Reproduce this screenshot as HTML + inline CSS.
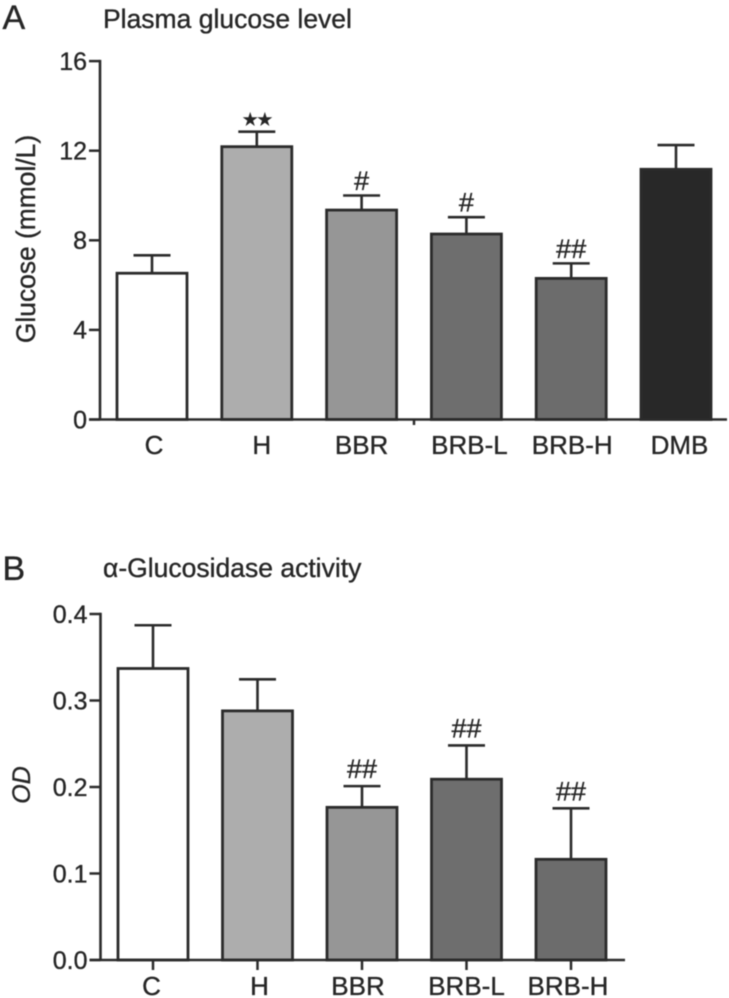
<!DOCTYPE html>
<html lang="en">
<head>
<meta charset="utf-8">
<title>Plasma glucose level and α-Glucosidase activity</title>
<style>
html,body{margin:0;padding:0;background:#fff;width:729px;height:998px;overflow:hidden}
svg{display:block;filter:blur(0.55px)}
text{font-family:"Liberation Sans",Arial,sans-serif;fill:#262626;stroke:#262626;stroke-width:0.35px}
</style>
</head>
<body>
<svg id="figure" xmlns="http://www.w3.org/2000/svg" width="729" height="998" viewBox="0 0 729 998">
  <rect x="0" y="0" width="729" height="998" fill="#fff"/>
  <text x="2.5" y="29" font-size="34">A</text>
  <text x="103" y="28" font-size="26.5">Plasma glucose level</text>
  <text transform="translate(35,239) rotate(-90)" text-anchor="middle" font-size="26.4">Glucose (mmol/L)</text>
  <g id="panelA"></g>
  <line x1="414" y1="419" x2="414" y2="425" stroke="#2b2b2b" stroke-width="2.5"/>
  <text x="2.5" y="580" font-size="34">B</text>
  <text x="103" y="577" font-size="26.5">α-Glucosidase activity</text>
  <text transform="translate(30,785) rotate(-90)" text-anchor="middle" font-size="25" font-style="italic">OD</text>
  <g id="panelB"></g>
</svg>
<script>
var categoriesA = ['C', 'H', 'BBR', 'BRB-L', 'BRB-H', 'DMB'];
var meansA = [6.53, 12.18, 9.35, 8.28, 6.3, 11.17];
var errorsA = [0.8, 0.67, 0.65, 0.75, 0.67, 1.08];
var marksA = ['', '★★', '#', '#', '##', ''];
var ticksA = [0, 4, 8, 12, 16];
var tickLabelsA = ['0', '4', '8', '12', '16'];

var categoriesB = ['C', 'H', 'BBR', 'BRB-L', 'BRB-H'];
var meansB = [0.337, 0.288, 0.1765, 0.209, 0.1164];
var errorsB = [0.05, 0.0365, 0.0245, 0.039, 0.059];
var marksB = ['', '', '##', '##', '##'];
var ticksB = [0, 0.1, 0.2, 0.3, 0.4];
var tickLabelsB = ['0.0', '0.1', '0.2', '0.3', '0.4'];

var fills = ['#ffffff', '#adadad', '#969696', '#6e6e6e', '#6c6c6c', '#282828'];
var INK = '#2b2b2b';
var NS = 'http://www.w3.org/2000/svg';

function make(parent, tag, attrs, content) {
  var el = document.createElementNS(NS, tag);
  for (var k in attrs) { el.setAttribute(k, attrs[k]); }
  if (content !== undefined) { el.textContent = content; }
  parent.appendChild(el);
  return el;
}

function drawPanel(cfg) {
  var g = document.getElementById(cfg.id);
  var x = cfg.x;
  var y = cfg.y;
  var halfBar = 35;
  var halfCap = 18.5;

  var yAxis = make(g, 'line', {x1: cfg.axisX, y1: y(cfg.ticks[cfg.ticks.length - 1]) - 1.25, x2: cfg.axisX, y2: y(0), stroke: INK, 'stroke-width': 2.6});
  
  

  cfg.ticks.forEach(function (t, i) {
    var tick = make(g, 'line', {x1: cfg.axisX - 11, y1: y(t), x2: cfg.axisX, y2: y(t), stroke: INK, 'stroke-width': 2.5});
    
    
    var label = make(g, 'text', {x: cfg.axisX - 13, y: y(t) + 8.8, 'text-anchor': 'end', 'font-size': 25}, cfg.tickLabels[i]);
    
    
  });

  cfg.categories.forEach(function (c, i) {
    var cx = x(i);
    var top = y(cfg.means[i]);
    var errTop = y(cfg.means[i] + cfg.errors[i]);

    var stem = make(g, 'line', {x1: cx, y1: errTop, x2: cx, y2: top, stroke: INK, 'stroke-width': 2.6});
    
    
    var cap = make(g, 'line', {x1: cx - halfCap, y1: errTop, x2: cx + halfCap, y2: errTop, stroke: INK, 'stroke-width': 2.6});
    
    

    var bar = make(g, 'rect', {x: cx - halfBar, y: top, width: halfBar * 2, height: y(0) - top, fill: fills[i], stroke: INK, 'stroke-width': 2.8});
    
    

    if (cfg.marks[i]) {
      var isStar = cfg.marks[i].indexOf('★') >= 0;
      var mark = make(g, 'text', {
        x: cx,
        y: errTop - (isStar ? 6 : cfg.markGap),
        'text-anchor': 'middle',
        'font-size': isStar ? 18 : 27,
        'letter-spacing': isStar ? -1.5 : 0,
        'font-family': isStar ? '"DejaVu Sans", sans-serif' : '"Liberation Sans", sans-serif'
      }, cfg.marks[i]);
      
      
    }

    if (cfg.xTicks) {
      var xt = make(g, 'line', {x1: cx, y1: y(0), x2: cx, y2: y(0) + 10, stroke: INK, 'stroke-width': 2.5});
      
      
    }

    var lab = make(g, 'text', {x: cx + cfg.labelShift[i], y: cfg.labelY, 'text-anchor': 'middle', 'font-size': 26}, c);
    
    
  });

  var xAxis = make(g, 'line', {x1: cfg.axisX - 11, y1: y(0), x2: cfg.axisEnd, y2: y(0), stroke: INK, 'stroke-width': 2.6});
  
  
}

drawPanel({
  id: 'panelA',
  categories: categoriesA, means: meansA, errors: errorsA, marks: marksA,
  ticks: ticksA, tickLabels: tickLabelsA,
  x: function (i) { return 152 + 104.8 * i; },
  y: function (v) { return 419.5 - v * 22.4; },
  axisX: 100, axisEnd: 727, labelY: 454, markGap: 5.5, xTicks: false,
  labelShift: [2, 5, 0, 3, 1, 3.5]
});

drawPanel({
  id: 'panelB',
  categories: categoriesB, means: meansB, errors: errorsB, marks: marksB,
  ticks: ticksB, tickLabels: tickLabelsB,
  x: function (i) { return 153 + 104.5 * i; },
  y: function (v) { return 960 - v * 865; },
  axisX: 100.5, axisEnd: 625, labelY: 995, markGap: 8, xTicks: true,
  labelShift: [-1.5, 2, -4, 0, -3]
});
</script>
</body>
</html>
